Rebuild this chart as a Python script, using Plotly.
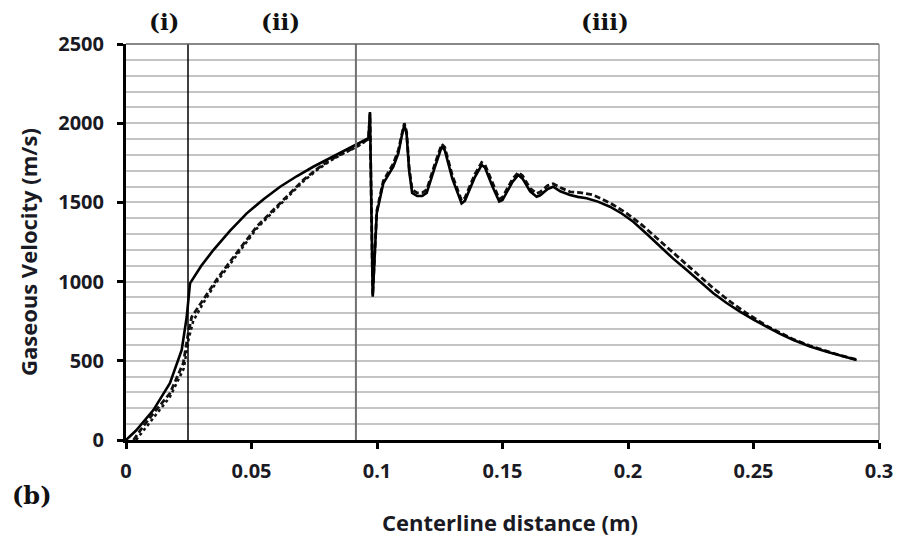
import plotly.graph_objects as go

# Centerline gaseous velocity profiles (three model runs)
x_solid = [0.0, 0.0040, 0.0109, 0.0175, 0.0222, 0.0242, 0.0255, 0.0300, 0.0348, 0.0414, 0.0481,
           0.0548, 0.0614, 0.0680, 0.0746, 0.0813, 0.0879, 0.0940, 0.0966, 0.0972, 0.0983,
           0.0999, 0.1025, 0.1065, 0.1085, 0.1100, 0.1109, 0.1118, 0.1128, 0.1140, 0.1160,
           0.1180, 0.1198, 0.1230, 0.1258, 0.1270, 0.1300, 0.1337, 0.1350, 0.1390, 0.1417,
           0.1430, 0.1460, 0.1487, 0.1500, 0.1540, 0.1563, 0.1580, 0.1610, 0.1636, 0.1650,
           0.1680, 0.1702, 0.1730, 0.1769, 0.1800, 0.1835, 0.1880, 0.1928, 0.1975, 0.2021,
           0.2075, 0.2127, 0.2180, 0.2234, 0.2287, 0.2340, 0.2393, 0.2446, 0.2500, 0.2553,
           0.2606, 0.2659, 0.2725, 0.2792, 0.2850, 0.2911]
y_solid = [0, 60, 189, 358, 568, 778, 989, 1100, 1199, 1320, 1431,
           1520, 1599, 1665, 1725, 1780, 1831, 1880, 1905, 2070, 905,
           1431, 1620, 1725, 1810, 1930, 1989, 1930, 1700, 1560, 1540,
           1540, 1560, 1720, 1852, 1830, 1650, 1494, 1510, 1660, 1736,
           1720, 1600, 1505, 1515, 1630, 1673, 1650, 1570, 1536, 1545,
           1585, 1599, 1570, 1547, 1535, 1526, 1505, 1473, 1430, 1378,
           1300, 1220, 1145, 1073, 998, 926, 865, 810, 760, 715,
           670, 631, 590, 557, 530, 505]

x_dash = [0.0030, 0.0070, 0.0109, 0.0175, 0.0228, 0.0248, 0.0262, 0.0308, 0.0360, 0.0414, 0.0470,
          0.0521, 0.0570, 0.0614, 0.0660, 0.0706, 0.0760, 0.0813, 0.0870, 0.0919, 0.0966,
          0.0972, 0.0983, 0.0999, 0.1025, 0.1065, 0.1085, 0.1100, 0.1109, 0.1118, 0.1128,
          0.1140, 0.1160, 0.1180, 0.1198, 0.1230, 0.1258, 0.1270, 0.1300, 0.1337, 0.1350,
          0.1390, 0.1417, 0.1430, 0.1460, 0.1487, 0.1500, 0.1540, 0.1563, 0.1580, 0.1610,
          0.1636, 0.1650, 0.1680, 0.1702, 0.1730, 0.1769, 0.1810, 0.1862, 0.1930, 0.1995,
          0.2050, 0.2101, 0.2160, 0.2220, 0.2280, 0.2340, 0.2410, 0.2473, 0.2553, 0.2659,
          0.2725, 0.2792, 0.2850, 0.2911]
y_dash = [0, 90, 168, 295, 484, 674, 778, 890, 1010, 1125, 1240,
          1347, 1425, 1494, 1570, 1641, 1710, 1768, 1815, 1852, 1900,
          2060, 915, 1445, 1635, 1745, 1830, 1950, 2000, 1945, 1720,
          1580, 1560, 1560, 1580, 1740, 1868, 1848, 1670, 1512, 1528,
          1678, 1752, 1738, 1618, 1522, 1532, 1648, 1690, 1668, 1588,
          1556, 1566, 1606, 1618, 1594, 1567, 1562, 1547, 1495, 1431,
          1365, 1294, 1210, 1126, 1040, 958, 870, 800, 720, 635,
          595, 560, 532, 508]

x_dot = [0.0040, 0.0080, 0.0120, 0.0175, 0.0230, 0.0250, 0.0268, 0.0310, 0.0360, 0.0414, 0.0470,
         0.0521, 0.0570, 0.0614, 0.0660, 0.0706, 0.0760, 0.0813, 0.0870, 0.0919, 0.0966]
y_dot = [0, 80, 165, 272, 450, 640, 752, 870, 995, 1110, 1228,
         1335, 1415, 1485, 1562, 1632, 1703, 1762, 1812, 1850, 1898]

x_ticks = [0, 0.05, 0.1, 0.15, 0.2, 0.25, 0.3]
y_ticks = [0, 500, 1000, 1500, 2000, 2500]
zone_bounds = [0.0247, 0.0916]
zone_labels = ["(i)", "(ii)", "(iii)"]
zone_label_x = [0.0155, 0.0614, 0.1908]

text_color = "#1a1a24"
label_font = dict(family="Open Sans, sans-serif", size=22, color=text_color, weight="bold")
serif_font = dict(family="DejaVu Serif, serif", size=23, color="#111", weight="bold")

fig = go.Figure()
fig.add_trace(go.Scatter(x=x_dot, y=y_dot, mode="lines",
                         line=dict(color="#111", width=2.5, dash="dot")))
fig.add_trace(go.Scatter(x=x_dash, y=y_dash, mode="lines",
                         line=dict(color="#111", width=2.8, dash="6px,3px")))
fig.add_trace(go.Scatter(x=x_solid, y=y_solid, mode="lines",
                         line=dict(color="#000", width=2.6)))

# zone boundaries
fig.add_shape(type="line", x0=zone_bounds[0], x1=zone_bounds[0], y0=0, y1=2500,
              xref="x", yref="y", line=dict(color="#000", width=1.5))
fig.add_shape(type="line", x0=zone_bounds[1], x1=zone_bounds[1], y0=0, y1=2500,
              xref="x", yref="y", line=dict(color="#707070", width=2))
# top and right frame
fig.add_shape(type="line", x0=0, x1=1, y0=1, y1=1, xref="paper", yref="paper",
              line=dict(color="#606060", width=1.5))
fig.add_shape(type="line", x0=1, x1=1, y0=0, y1=1, xref="paper", yref="paper",
              line=dict(color="#909090", width=1.5))

for txt, xv in zip(zone_labels, zone_label_x):
    fig.add_annotation(x=xv, y=1.058, xref="x", yref="paper", text=txt, showarrow=False,
                       xanchor="center", yanchor="middle", font=serif_font)

fig.add_annotation(x=-0.125, y=-0.141, xref="paper", yref="paper", text="(b)",
                   showarrow=False, xanchor="center", yanchor="middle",
                   font=dict(serif_font, size=24))
fig.add_annotation(x=0.51, y=-0.207, xref="paper", yref="paper",
                   text="Centerline distance (m)", showarrow=False,
                   xanchor="center", yanchor="middle", font=label_font)
fig.add_annotation(x=-0.130, y=0.475, xref="paper", yref="paper",
                   text="Gaseous Velocity (m/s)", textangle=-90, showarrow=False,
                   xanchor="center", yanchor="middle", font=label_font)

fig.update_layout(
    width=907, height=540, showlegend=False,
    margin=dict(l=126, r=28, t=44, b=100),
    paper_bgcolor="white", plot_bgcolor="white",
    font=label_font,
    xaxis=dict(range=[0, 0.3], tickvals=x_ticks, ticktext=[str(v) for v in x_ticks],
               showgrid=False, zeroline=False, showline=True, linecolor="#000",
               linewidth=3, ticks="outside", ticklen=6, tickwidth=3, tickcolor="#000",
               ticklabelstandoff=5, tickfont=dict(size=20)),
    yaxis=dict(range=[0, 2500], tickvals=y_ticks, showgrid=True, gridcolor="#c4c4c4",
               gridwidth=2, zeroline=False, showline=True, linecolor="#000", linewidth=3,
               ticks="outside", ticklen=6, tickwidth=3, tickcolor="#000",
               ticklabelstandoff=9, tickfont=dict(size=20),
               minor=dict(dtick=100, showgrid=True, gridcolor="#c4c4c4", gridwidth=2)),
)

fig.write_html("out.html")
